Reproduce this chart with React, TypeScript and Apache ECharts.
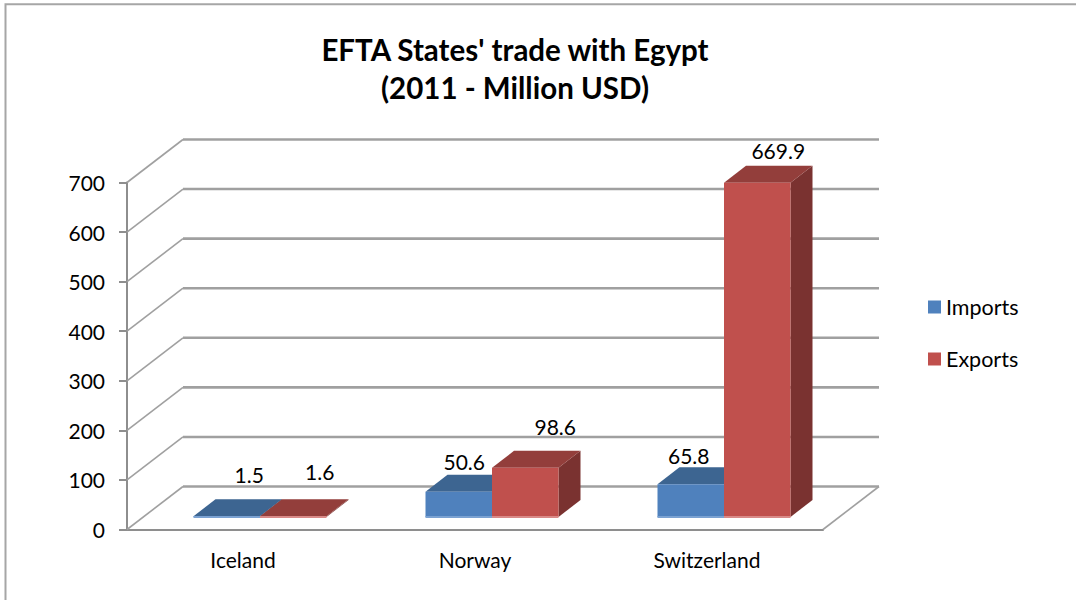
import React, { useEffect, useRef } from "react";
import * as echarts from "echarts";

const categories = ["Iceland", "Norway", "Switzerland"];
const importsValues = [1.5, 50.6, 65.8];
const exportsValues = [1.6, 98.6, 669.9];
const axisTicks = [0, 100, 200, 300, 400, 500, 600, 700];

const FONT = "Lato, 'Open Sans', sans-serif";
const DEPTH_DX = 56;
const DEPTH_DY = -43;
const BAR_DX = 22;
const BAR_DY = -17;
const GRID_COLOR = "#a0a0a0";

// label nudges relative to the back-top edge centre of each bar, in pixels
const importsNudge = [[0.5, -25], [-16.5, -13], [-24, -12]];
const exportsNudge = [[4.5, -28], [8, -24], [-1, -15]];

function barRenderer(
  side: number,
  front: string,
  top: string,
  right: string,
  strip: string,
  nudge: number[][],
) {
  return (params: any, api: any) => {
    const idx = api.value(0);
    const v = api.value(1);
    const base = api.coord([idx, 0]);
    const head = api.coord([idx, v]);
    const w = api.size([1, 0])[0] * (66.5 / 232);
    const x0 = side < 0 ? base[0] - w : base[0];
    const x1 = x0 + w;
    const yb = base[1];
    const yt = head[1];
    const n = nudge[params.dataIndexInside];
    return {
      type: "group",
      children: [
        {
          type: "polygon",
          shape: { points: [[x1, yb], [x1 + BAR_DX, yb + BAR_DY], [x1 + BAR_DX, yt + BAR_DY], [x1, yt]] },
          style: { fill: right },
        },
        {
          type: "polygon",
          shape: { points: [[x0, yt], [x0 + BAR_DX, yt + BAR_DY], [x1 + BAR_DX, yt + BAR_DY], [x1, yt]] },
          style: { fill: top },
        },
        { type: "rect", shape: { x: x0, y: yt, width: w, height: yb - yt }, style: { fill: front } },
        { type: "rect", shape: { x: x0, y: yb - 1, width: w, height: 2 }, style: { fill: strip } },
        {
          type: "text",
          style: {
            text: String(v),
            x: (x0 + x1) / 2 + BAR_DX + n[0],
            y: yt + BAR_DY + n[1],
            align: "center",
            verticalAlign: "middle",
            fontFamily: FONT,
            fontSize: 21,
            fill: "#000",
          },
        },
      ],
    };
  };
}

function renderGridLine(params: any, api: any) {
  const sys = params.coordSys;
  const v = api.value(1);
  const y = api.coord([0, v])[1];
  const xL = sys.x;
  const xR = sys.x + sys.width;
  const children: any[] = [
    {
      type: "line",
      shape: { x1: xL, y1: y, x2: xL + DEPTH_DX, y2: y + DEPTH_DY },
      style: { stroke: GRID_COLOR, lineWidth: 1.6 },
    },
    {
      type: "line",
      shape: { x1: xL + DEPTH_DX, y1: y + DEPTH_DY, x2: xR + DEPTH_DX, y2: y + DEPTH_DY },
      style: { stroke: GRID_COLOR, lineWidth: 2.6 },
    },
  ];
  if (v === 0) {
    children.push({
      type: "line",
      shape: { x1: xR, y1: y, x2: xR + DEPTH_DX, y2: y + DEPTH_DY },
      style: { stroke: GRID_COLOR, lineWidth: 1.6 },
    });
  }
  return { type: "group", children };
}

export default function App() {
  const ref = useRef<HTMLDivElement>(null);
  useEffect(() => {
    const chart = echarts.init(ref.current!, undefined, { renderer: "svg" });
    const axisStyle = { lineStyle: { color: "#8e8e8e", width: 2 } };
    chart.setOption({
      animation: false,
      backgroundColor: "#ffffff",
      title: {
        text: "EFTA States' trade with Egypt\n(2011 - Million USD)",
        left: 510,
        top: 25,
        textAlign: "center",
        textStyle: { fontFamily: FONT, fontSize: 29.5, fontWeight: "bold", color: "#000", lineHeight: 38 },
      },
      legend: {
        orient: "vertical",
        left: 923,
        top: 291,
        itemWidth: 13,
        itemHeight: 13,
        itemGap: 30,
        icon: "rect",
        selectedMode: false,
        data: ["Imports", "Exports"],
        textStyle: { fontFamily: FONT, fontSize: 21.5, color: "#000", padding: [0, 0, 0, 0] },
      },
      graphic: [
        {
          type: "rect",
          silent: true,
          z: -10,
          shape: { x: 5.5, y: 4.3, width: 1200, height: 800 },
          style: { fill: "none", stroke: "#a6a6a6", lineWidth: 2 },
        },
      ],
      grid: [
        { left: 127, top: 182.5, width: 696, height: 347 },
        { left: 144, top: 167.7, width: 696, height: 349.3 },
      ],
      xAxis: [
        {
          type: "category",
          gridIndex: 0,
          data: categories,
          axisLine: axisStyle,
          axisTick: { length: 7, lineStyle: { color: "#8e8e8e", width: 2 } },
          axisLabel: { fontFamily: FONT, fontSize: 21, color: "#000", margin: 19 },
        },
        { type: "category", gridIndex: 1, data: categories, show: false },
      ],
      yAxis: [
        {
          type: "value",
          gridIndex: 0,
          min: 0,
          max: 700,
          interval: 100,
          axisLine: { show: true, ...axisStyle },
          axisTick: { show: true, length: 8, lineStyle: { color: "#8e8e8e", width: 2 } },
          splitLine: { show: false },
          axisLabel: { fontFamily: FONT, fontSize: 21, color: "#000", margin: 22 },
        },
        { type: "value", gridIndex: 1, min: 0, max: 700, interval: 100, show: false, splitLine: { show: false } },
      ],
      series: [
        {
          type: "custom",
          name: "walls",
          xAxisIndex: 0,
          yAxisIndex: 0,
          silent: true,
          clip: false,
          z: 1,
          data: axisTicks.map((t) => [0, t]),
          renderItem: renderGridLine,
          encode: { x: 0, y: 1 },
        },
        {
          type: "custom",
          name: "Imports",
          xAxisIndex: 1,
          yAxisIndex: 1,
          clip: false,
          z: 2,
          itemStyle: { color: "#4F81BD" },
          data: importsValues.map((v, i) => [i, v]),
          renderItem: barRenderer(-1, "#4F81BD", "#3D6591", "#305070", "#7ba2d2", importsNudge),
          encode: { x: 0, y: 1 },
        },
        {
          type: "custom",
          name: "Exports",
          xAxisIndex: 1,
          yAxisIndex: 1,
          clip: false,
          z: 3,
          itemStyle: { color: "#C0504D" },
          data: exportsValues.map((v, i) => [i, v]),
          renderItem: barRenderer(1, "#C0504D", "#933E3B", "#7A3230", "#d98a88", exportsNudge),
          encode: { x: 0, y: 1 },
        },
      ],
    });
    return () => chart.dispose();
  }, []);
  return <div ref={ref} style={{ position: "absolute", left: 0, top: 0, width: 1076, height: 600 }} />;
}
